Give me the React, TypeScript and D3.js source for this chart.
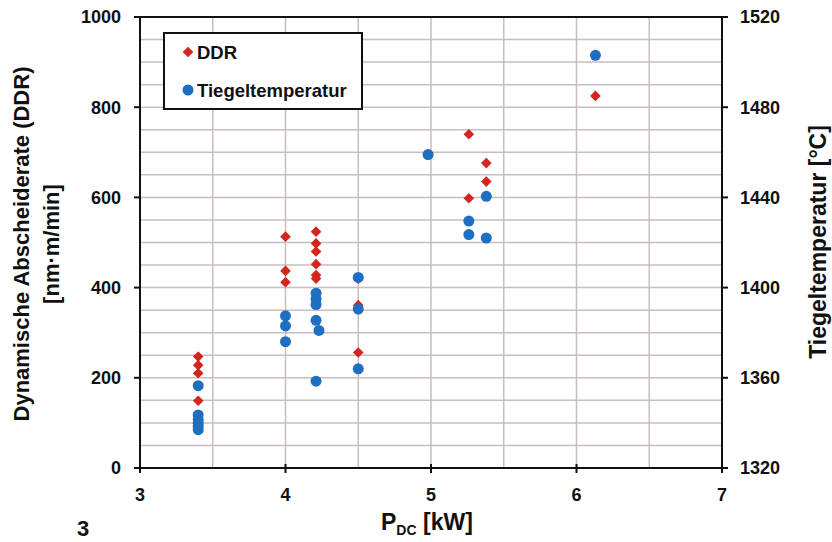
import * as d3 from "d3";

// DDR (left axis, nm·m/min) vs P_DC (kW)
const ddrP = [3.4, 3.4, 3.4, 3.4, 4.0, 4.0, 4.0, 4.21, 4.21, 4.21, 4.21, 4.21, 4.21, 4.5, 4.5, 4.5, 4.98, 5.26, 5.26, 5.38, 5.38, 6.13];
const ddrVal = [247, 228, 210, 149, 513, 437, 412, 524, 498, 480, 452, 428, 420, 420, 361, 256, 694, 740, 598, 676, 635, 825];

// Tiegeltemperatur (right axis, °C) vs P_DC (kW)
const tempP = [3.4, 3.4, 3.4, 3.4, 3.4, 3.4, 4.0, 4.0, 4.0, 4.21, 4.21, 4.21, 4.21, 4.23, 4.21, 4.5, 4.5, 4.5, 4.98, 5.26, 5.26, 5.38, 5.38, 6.13];
const tempVal = [1356.5, 1343.5, 1341.5, 1340, 1338.5, 1337, 1387.5, 1383, 1376, 1397.5, 1395, 1392.5, 1385.5, 1381, 1358.5, 1404.5, 1390.5, 1364, 1459, 1429.5, 1423.5, 1440.5, 1422, 1503];

const xTicks = [3, 4, 5, 6, 7];
const leftTicks = [0, 200, 400, 600, 800, 1000];
const rightTicks = [1320, 1360, 1400, 1440, 1480, 1520];

const W = 832;
const H = 542;
const m = { left: 140, right: 110, top: 17, bottom: 74 };
const font = "'Liberation Sans', Arial, sans-serif";
const RED = "#d3261e";
const BLUE = "#1e6ec2";
const GRID = "#c9bdbd";

export default function App() {
  const x = d3.scaleLinear().domain([3, 7]).range([m.left, W - m.right]);
  const yL = d3.scaleLinear().domain([0, 1000]).range([H - m.bottom, m.top]);
  const yR = d3.scaleLinear().domain([1320, 1520]).range([H - m.bottom, m.top]);

  const vGrid = d3.range(3.5, 7, 0.5);
  const hGrid = d3.range(50, 1000, 50);
  const diamond = d3.symbol(d3.symbolDiamond2, 72)();
  const x0 = x(3), x1 = x(7), y0 = yL(0), y1 = yL(1000);

  return (
    <svg width={W} height={H} style={{ position: "absolute", left: 0, top: 0, background: "#fff" }} fontFamily={font} fontWeight="bold">
      {/* grid */}
      <g stroke={GRID} strokeWidth={1.5}>
        {vGrid.map((v) => (
          <line key={"v" + v} x1={x(v)} x2={x(v)} y1={y1} y2={y0} />
        ))}
        {hGrid.map((v) => (
          <line key={"h" + v} x1={x0} x2={x1} y1={yL(v)} y2={yL(v)} />
        ))}
      </g>

      {/* frame */}
      <g stroke="#111" strokeWidth={2} fill="none">
        <line x1={x0} x2={x1} y1={y1} y2={y1} />
        <line x1={x0} x2={x1} y1={y0} y2={y0} />
        <line x1={x0} x2={x0} y1={y1} y2={y0} />
        <line x1={x1} x2={x1} y1={y1} y2={y0} />
        {leftTicks.map((t) => (
          <line key={"lt" + t} x1={x0 - 6} x2={x0} y1={yL(t)} y2={yL(t)} />
        ))}
        {rightTicks.map((t) => (
          <line key={"rt" + t} x1={x1} x2={x1 + 6} y1={yR(t)} y2={yR(t)} />
        ))}
        {xTicks.map((t) => (
          <line key={"xt" + t} x1={x(t)} x2={x(t)} y1={y0 - 4} y2={y0 + 5} />
        ))}
      </g>

      {/* tick labels */}
      <g fontSize={18} fill="#111">
        {leftTicks.map((t) => (
          <text key={"ll" + t} x={x0 - 19} y={yL(t)} dy="0.36em" textAnchor="end">{t}</text>
        ))}
        {rightTicks.map((t) => (
          <text key={"rl" + t} x={x1 + 18} y={yR(t)} dy="0.36em" textAnchor="start">{t}</text>
        ))}
        {xTicks.map((t) => (
          <text key={"xl" + t} x={x(t)} y={y0 + 33} textAnchor="middle">{t}</text>
        ))}
      </g>

      {/* points */}
      <g fill={RED}>
        {ddrP.map((p, i) => (
          <path key={"d" + i} d={diamond} transform={`translate(${x(p)},${yL(ddrVal[i])})`} />
        ))}
      </g>
      <g fill={BLUE}>
        {tempP.map((p, i) => (
          <circle key={"c" + i} cx={x(p)} cy={yR(tempVal[i])} r={5.5} />
        ))}
      </g>

      {/* legend */}
      <g transform="translate(164,33)">
        <rect width={198} height={76} fill="#fff" stroke="#111" strokeWidth={2} />
        <path d={diamond} fill={RED} transform="translate(24,19)" />
        <text x={33} y={26} fontSize={18.5} fill="#111">DDR</text>
        <circle cx={24} cy={57} r={5.5} fill={BLUE} />
        <text x={33} y={64} fontSize={18.5} fill="#111">Tiegeltemperatur</text>
      </g>

      {/* axis titles */}
      <g fontSize={22} fill="#111">
        <text transform={`translate(29,244) rotate(-90)`} textAnchor="middle">Dynamische Abscheiderate (DDR)</text>
        <text transform={`translate(59,244) rotate(-90)`} textAnchor="middle">[nm·m/min]</text>
        <text transform={`translate(826,242) rotate(-90)`} textAnchor="middle" fontSize={23}>Tiegeltemperatur [°C]</text>
        <text x={381} y={530} fontSize={23}>
          P<tspan fontSize={14} dy={5}>DC</tspan>
          <tspan dy={-5}> [kW]</tspan>
        </text>
        <text x={77} y={536} fontSize={22}>3</text>
      </g>
    </svg>
  );
}
